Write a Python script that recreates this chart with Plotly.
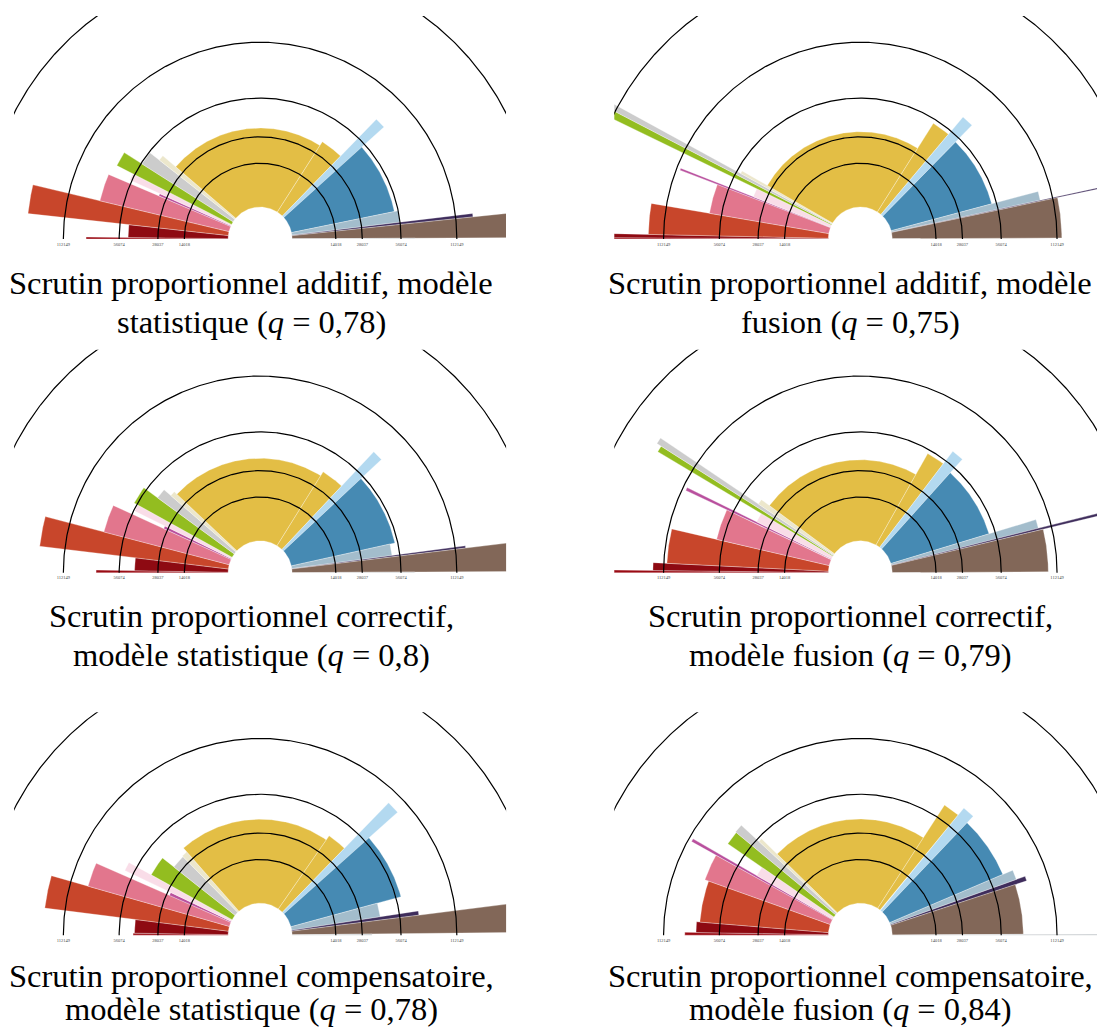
import numpy as np
import plotly.graph_objects as go

# ---------------- data ----------------
# parties from left to right (colour order of the reference)
PARTY_COLORS = ["#9a0b14", "#8e0a12", "#c8462b", "#e2768d", "#b9509e", "#f9dde8",
                "#93bd20", "#cccccc", "#ece7cc", "#e3be45", "#e3be45", "#b3d9f0",
                "#468ab3", "#a3bdcc", "#3f2d5c", "#826758", "#c9cdd0"]

# seats won (angular width) for each of the six simulations
SEATS_ADD_STAT = [2, 18, 23, 31, 4, 9, 17, 18, 8, 263, 37, 12, 98, 15, 3, 18, 1]
SEATS_ADD_FUS = [1, 3, 27, 36, 2, 14, 5, 4, 4, 296, 25, 14, 98, 9, 1, 37, 1]
SEATS_COR_STAT = [3, 19, 25, 32, 5, 9, 23, 15, 8, 252, 36, 12, 98, 16, 2, 21, 1]
SEATS_COR_FUS = [2, 7, 33, 39, 3, 15, 5, 5, 8, 266, 25, 15, 100, 9, 2, 42, 1]
SEATS_COM_STAT = [3, 20, 28, 25, 6, 11, 30, 23, 10, 244, 30, 13, 85, 21, 5, 21, 2]
SEATS_COM_FUS = [3, 12, 48, 30, 3, 15, 16, 10, 5, 252, 20, 14, 75, 11, 5, 57, 1]

# votes per seat won (radius)
VPS_ADD_STAT = [87071, 48821, 159232, 77696, 32976, 57824, 74110, 55298, 45726,
                33634, 36667, 79967, 52824, 56134, 133262, 247262, 68467]
VPS_ADD_FUS = [264821, 230298, 130726, 66634, 107824, 36324, 264821, 282976, 52336,
               31229, 52661, 72679, 52012, 97726, 264821, 117804, 7679]
VPS_COR_STAT = [77012, 43914, 143643, 74589, 30405, 55298, 58679, 44967, 38405,
                35983, 39110, 78976, 53643, 49610, 124491, 230298, 68098]
VPS_COR_FUS = [230298, 124985, 108515, 61715, 107824, 36667, 162726, 169824, 41991,
               34967, 52824, 66360, 50804, 97179, 247262, 102155, 7679]
VPS_COM_STAT = [44967, 43988, 137110, 92324, 26134, 63929, 43095, 32976, 33634,
                37012, 40539, 98274, 60405, 40899, 73155, 247262, 34298]
VPS_COM_FUS = [88631, 77304, 74110, 77991, 107824, 39393, 74110, 75071, 53643,
               37149, 68467, 77012, 68467, 78679, 88110, 76039, 213929]

CIRCLE_VALUES = [14018, 28037, 56074, 112149, 224298]
TICK_VALUES = [14018, 28037, 56074, 112149]

CAPTIONS = [
    ("Scrutin proportionnel additif, modèle", "statistique (<i>q</i> = 0,78)"),
    ("Scrutin proportionnel additif, modèle", "fusion (<i>q</i> = 0,75)"),
    ("Scrutin proportionnel correctif,", "modèle statistique (<i>q</i> = 0,8)"),
    ("Scrutin proportionnel correctif,", "modèle fusion (<i>q</i> = 0,79)"),
    ("Scrutin proportionnel compensatoire,", "modèle statistique (<i>q</i> = 0,78)"),
    ("Scrutin proportionnel compensatoire,", "modèle fusion (<i>q</i> = 0,84)"),
]

PANELS = [
    (SEATS_ADD_STAT, VPS_ADD_STAT), (SEATS_ADD_FUS, VPS_ADD_FUS),
    (SEATS_COR_STAT, VPS_COR_STAT), (SEATS_COR_FUS, VPS_COR_FUS),
    (SEATS_COM_STAT, VPS_COM_STAT), (SEATS_COM_FUS, VPS_COM_FUS),
]

# ---------------- layout constants ----------------
W, H = 1097, 1032
HOLE = 32.0          # radius of the empty centre
K = 0.336            # area scale: r^2 - HOLE^2 proportional to votes per seat
COL_CX = [260.1, 860.3]
ROW_CY = [239.0, 572.8, 935.2]
X_LEFT, X_RIGHT = 246.0, 246.0
Y_TOP, Y_BOT = 223.0, 10.0
CAP_X = [251, 850]
CAP_BASE = [(294, 333), (627, 666), (987, 1020)]
CAP_FS = 32.5


def radius(v):
    return np.sqrt(HOLE ** 2 + K * np.asarray(v, dtype=float))


fig = go.Figure()

for i, (seats, vps) in enumerate(PANELS):
    row, col = divmod(i, 2)
    cx, cy = COL_CX[col], ROW_CY[row]
    ax = "" if i == 0 else str(i + 1)
    xr_left = -min(X_LEFT, cx)
    xr_right = min(X_RIGHT, W - cx)
    x0p, x1p = cx + xr_left, cx + xr_right
    y0p, y1p = cy - Y_TOP, cy + Y_BOT
    fig.layout["xaxis" + ax] = dict(domain=[x0p / W, x1p / W], range=[xr_left, xr_right],
                                    visible=False, fixedrange=True)
    fig.layout["yaxis" + ax] = dict(domain=[1 - y1p / H, 1 - y0p / H], range=[-Y_BOT, Y_TOP],
                                    visible=False, fixedrange=True)
    xa, ya = "x" + ax, "y" + ax

    total = float(sum(seats))
    cum = 0.0
    radii = radius(vps)
    for s, r, c in zip(seats, radii, PARTY_COLORS):
        a0 = np.pi * (1 - cum / total)
        a1 = np.pi * (1 - (cum + s) / total)
        cum += s
        n = max(3, int(abs(a0 - a1) * 180))
        t = np.linspace(a0, a1, n)
        xs = np.concatenate([r * np.cos(t), HOLE * np.cos(t[::-1])])
        ys = np.concatenate([r * np.sin(t), HOLE * np.sin(t[::-1])])
        fig.add_trace(go.Scatter(x=np.append(xs, xs[0]), y=np.append(ys, ys[0]),
                                 mode="lines", fill="toself", fillcolor=c,
                                 line=dict(color="rgba(255,255,255,0.6)", width=0.5),
                                 hoverinfo="skip", showlegend=False, xaxis=xa, yaxis=ya))

    t = np.linspace(0, np.pi, 400)
    for v in CIRCLE_VALUES:
        rr = radius(v)
        fig.add_trace(go.Scatter(x=rr * np.cos(t), y=rr * np.sin(t), mode="lines",
                                 line=dict(color="black", width=1.2),
                                 hoverinfo="skip", showlegend=False, xaxis=xa, yaxis=ya))

    tr = radius(TICK_VALUES)
    fig.add_trace(go.Scatter(x=np.concatenate([-tr, tr]), y=[-5.5] * (2 * len(tr)),
                             mode="text", text=[str(v) for v in TICK_VALUES] * 2,
                             textfont=dict(size=4.5, color="#444", family="Liberation Serif"),
                             cliponaxis=False, hoverinfo="skip", showlegend=False,
                             xaxis=xa, yaxis=ya))

    for line_txt, base in zip(CAPTIONS[i], CAP_BASE[row]):
        fig.add_annotation(x=CAP_X[col] / W, y=1 - (base - 0.33 * CAP_FS) / H,
                           xref="paper", yref="paper", text=line_txt, showarrow=False,
                           xanchor="center", yanchor="middle",
                           font=dict(family="Liberation Serif", size=CAP_FS, color="black"))

fig.update_layout(width=W, height=H, margin=dict(l=0, r=0, t=0, b=0),
                  paper_bgcolor="white", plot_bgcolor="rgba(0,0,0,0)", showlegend=False)

fig.write_html("out.html", config={"displayModeBar": False, "staticPlot": True},
               post_script="document.body.style.margin='0';document.body.style.overflow='hidden';")
